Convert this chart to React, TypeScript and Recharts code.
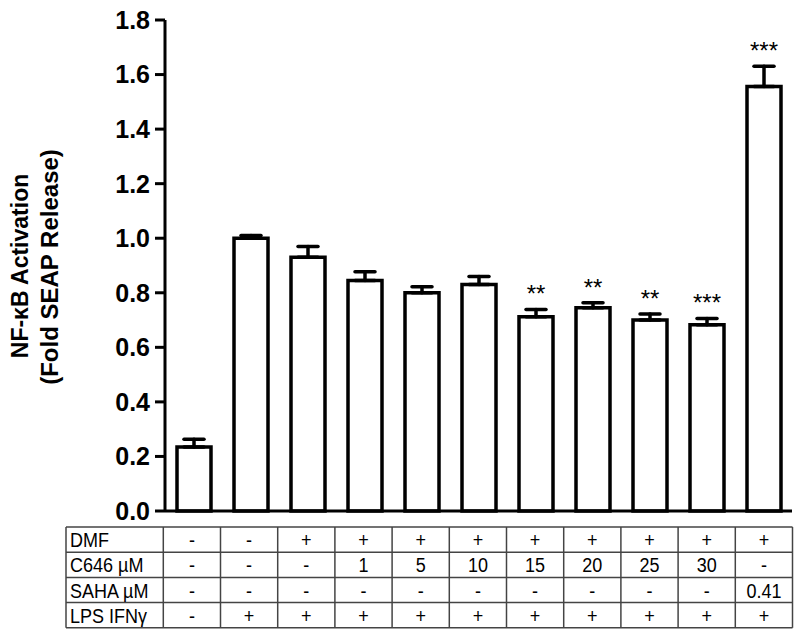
import React from "react"
import { BarChart, Bar, XAxis, YAxis, ErrorBar, LabelList } from "recharts"

const groups = ["1", "2", "3", "4", "5", "6", "7", "8", "9", "10", "11"]
const means = [0.235, 1.0, 0.93, 0.845, 0.8, 0.83, 0.712, 0.745, 0.7, 0.683, 1.556]
const sems = [0.028, 0.01, 0.04, 0.032, 0.022, 0.03, 0.027, 0.018, 0.022, 0.023, 0.074]
const stars = ["", "", "", "", "", "", "**", "**", "**", "***", "***"]
const yTicks = [0, 0.2, 0.4, 0.6, 0.8, 1.0, 1.2, 1.4, 1.6, 1.8]

const rowLabels = ["DMF", "C646 µM", "SAHA µM", "LPS IFNγ"]
const dmf = ["-", "-", "+", "+", "+", "+", "+", "+", "+", "+", "+"]
const c646 = ["-", "-", "-", "1", "5", "10", "15", "20", "25", "30", "-"]
const saha = ["-", "-", "-", "-", "-", "-", "-", "-", "-", "-", "0.41"]
const lps = ["-", "+", "+", "+", "+", "+", "+", "+", "+", "+", "+"]
const rows = [dmf, c646, saha, lps]

const data = groups.map((g, i) => ({
  group: g,
  mean: means[i],
  err: [0, sems[i]],
  stars: stars[i],
}))

const FONT = "'Liberation Sans', Arial, Helvetica, sans-serif"

// treatment table geometry
const TBL_LEFT = 66
const TBL_FIRST = 163.3
const COL_W = 57.2
const ROW_H = 25.2
const TBL_TOP = 1
const TBL_RIGHT = TBL_FIRST + COL_W * groups.length

function StarLabel(props: any) {
  const { index, value } = props
  if (!value) return null
  const vb = props.viewBox || props
  const ppu = vb.height / means[index]
  const capY = vb.y - sems[index] * ppu
  return (
    <text x={vb.x + vb.width / 2} y={capY - 7} textAnchor="middle" fontFamily={FONT} fontSize={24} fill="#000">
      {value}
    </text>
  )
}

function TreatmentTable() {
  const bottom = TBL_TOP + ROW_H * rows.length
  return (
    <svg width={800} height={108} style={{ position: "absolute", left: 0, top: 526 }}>
      <g stroke="#444" strokeWidth={1.5}>
        {Array.from({ length: rows.length + 1 }).map((_, r) => (
          <line key={"h" + r} x1={TBL_LEFT} x2={TBL_RIGHT} y1={TBL_TOP + r * ROW_H} y2={TBL_TOP + r * ROW_H} />
        ))}
        <line x1={TBL_LEFT} x2={TBL_LEFT} y1={TBL_TOP} y2={bottom} />
        {Array.from({ length: groups.length + 1 }).map((_, c) => (
          <line key={"v" + c} x1={TBL_FIRST + c * COL_W} x2={TBL_FIRST + c * COL_W} y1={TBL_TOP} y2={bottom} />
        ))}
      </g>
      <g fontFamily={FONT} fontSize={18} fill="#000">
        {rows.map((row, r) => {
          const y = TBL_TOP + r * ROW_H + ROW_H / 2 + 7.5
          return (
            <g key={r}>
              <text transform={`translate(${TBL_LEFT + 4}, ${y}) scale(1, 1.14)`}>{rowLabels[r]}</text>
              {row.map((cell, c) => (
                <text
                  key={c}
                  transform={`translate(${TBL_FIRST + (c + 0.5) * COL_W}, ${y}) scale(1, 1.14)`}
                  textAnchor="middle"
                >
                  {cell}
                </text>
              ))}
            </g>
          )
        })}
      </g>
    </svg>
  )
}

export default function App() {
  return (
    <div style={{ position: "absolute", left: 0, top: 0, width: 800, height: 634, background: "#fff" }}>
      <BarChart
        width={800}
        height={528}
        data={data}
        margin={{ top: 20, right: 8, left: 0, bottom: 16 }}
        barSize={34}
      >
        <XAxis
          dataKey="group"
          tick={false}
          tickLine={false}
          height={1}
          axisLine={{ stroke: "#000", strokeWidth: 3 }}
        />
        <YAxis
          width={165}
          domain={[0, 1.8]}
          ticks={yTicks}
          interval={0}
          tickSize={10}
          tickMargin={5}
          tickFormatter={(v: number) => v.toFixed(1)}
          tick={{ fill: "#000", fontSize: 25, fontWeight: "bold", fontFamily: FONT }}
          tickLine={{ stroke: "#000", strokeWidth: 3 }}
          axisLine={{ stroke: "#000", strokeWidth: 3 }}
        />
        <Bar dataKey="mean" fill="#fff" stroke="#000" strokeWidth={3.5} isAnimationActive={false}>
          <ErrorBar
            dataKey="err"
            direction="y"
            width={10}
            stroke="#000"
            strokeWidth={3.5}
            strokeLinecap="round"
            isAnimationActive={false}
          />
          <LabelList dataKey="stars" content={StarLabel} />
        </Bar>
        <text
          transform="translate(28, 266) rotate(-90)"
          textAnchor="middle"
          fontFamily={FONT}
          fontSize={23}
          fontWeight="bold"
          fill="#000"
        >
          NF-κB Activation
        </text>
        <text
          transform="translate(58, 267) rotate(-90)"
          textAnchor="middle"
          fontFamily={FONT}
          fontSize={24}
          fontWeight="bold"
          fill="#000"
        >
          (Fold SEAP Release)
        </text>
      </BarChart>
      <TreatmentTable />
    </div>
  )
}
